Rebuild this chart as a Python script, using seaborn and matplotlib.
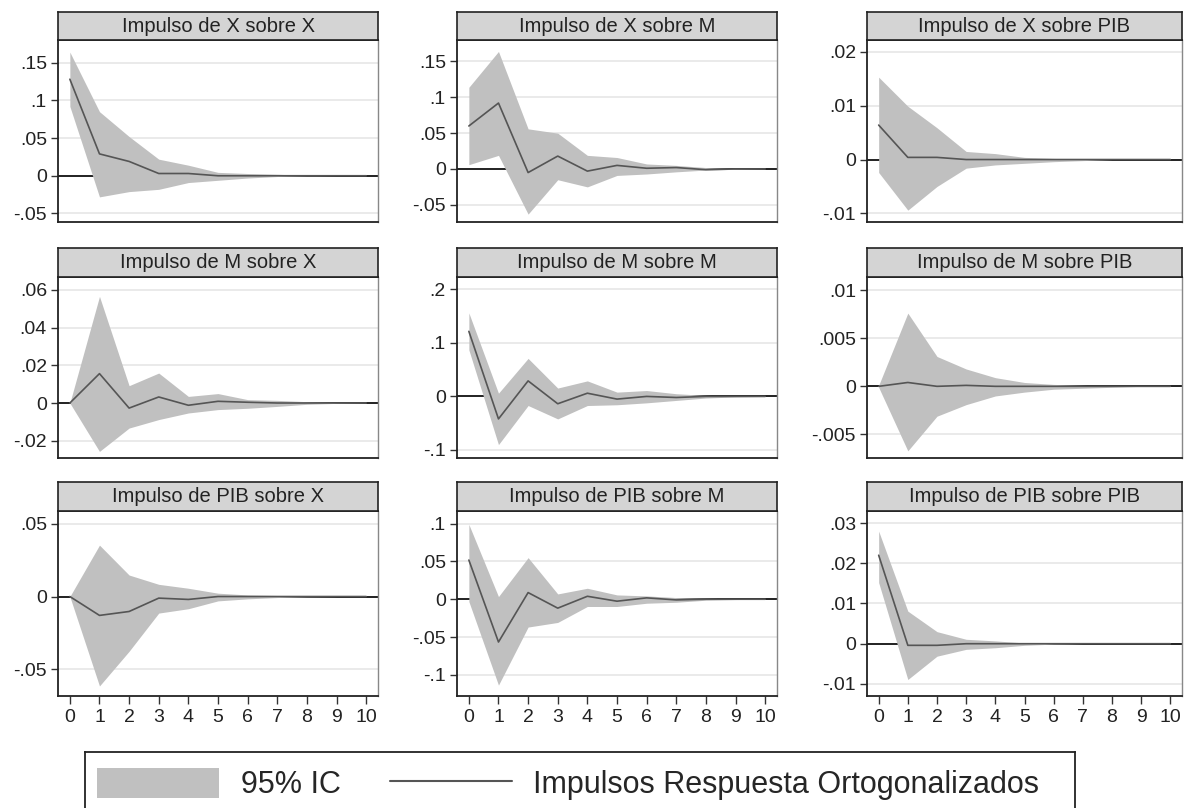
import numpy as np
import seaborn as sns
import matplotlib.pyplot as plt
from matplotlib.patches import Patch
from matplotlib.lines import Line2D

# horizonte (pasos) de las funciones impulso-respuesta
steps = list(range(11))

titles = ["Impulso de X sobre X", "Impulso de X sobre M", "Impulso de X sobre PIB",
          "Impulso de M sobre X", "Impulso de M sobre M", "Impulso de M sobre PIB",
          "Impulso de PIB sobre X", "Impulso de PIB sobre M", "Impulso de PIB sobre PIB"]

# respuestas ortogonalizadas
irf_x_x = [0.128, 0.029, 0.019, 0.003, 0.003, 0.0, 0.0, 0.0, 0.0, 0.0, 0.0]
lo_x_x = [0.092, -0.028, -0.021, -0.018, -0.009, -0.006, -0.003, -0.001, 0.0, 0.0, 0.0]
hi_x_x = [0.164, 0.085, 0.052, 0.022, 0.014, 0.0045, 0.003, 0.002, 0.0005, 0.0, 0.0]

irf_x_m = [0.060, 0.092, -0.005, 0.018, -0.003, 0.005, 0.001, 0.002, -0.001, 0.0, 0.0]
lo_x_m = [0.006, 0.019, -0.063, -0.015, -0.025, -0.009, -0.007, -0.004, -0.0015, -0.0005, 0.0]
hi_x_m = [0.114, 0.164, 0.056, 0.050, 0.019, 0.016, 0.007, 0.005, 0.002, 0.0005, 0.0]

irf_x_pib = [0.0064, 0.0004, 0.0004, 0.0, 0.0, 0.0, 0.0, 0.0, 0.0, 0.0, 0.0]
lo_x_pib = [-0.0024, -0.0094, -0.005, -0.0016, -0.001, -0.0007, -0.0004, -0.0002, 0.0, 0.0, 0.0]
hi_x_pib = [0.0153, 0.0099, 0.0059, 0.0015, 0.0011, 0.0004, 0.0002, 0.0001, 0.0, 0.0, 0.0]

irf_m_x = [0.0, 0.0156, -0.0027, 0.0032, -0.0012, 0.0009, 0.0004, 0.0, 0.0, 0.0, 0.0]
lo_m_x = [0.0, -0.0257, -0.0133, -0.0088, -0.0053, -0.0035, -0.0028, -0.0018, -0.0007, -0.0002, 0.0]
hi_m_x = [0.0, 0.0566, 0.0092, 0.0159, 0.0035, 0.005, 0.0018, 0.0014, 0.0007, 0.0002, 0.0]

irf_m_m = [0.1215, -0.042, 0.029, -0.0137, 0.006, -0.005, 0.0, -0.002, 0.0, 0.0, 0.0]
lo_m_m = [0.087, -0.090, -0.017, -0.042, -0.017, -0.0156, -0.012, -0.0075, -0.003, -0.001, 0.0]
hi_m_m = [0.156, 0.006, 0.071, 0.0156, 0.029, 0.008, 0.011, 0.005, 0.002, 0.0005, 0.0]

irf_m_pib = [0.0, 0.0004, 0.0, 0.0001, 0.0, 0.0, 0.0, 0.0, 0.0, 0.0, 0.0]
lo_m_pib = [-0.0001, -0.0067, -0.0031, -0.0019, -0.001, -0.0006, -0.0003, -0.0002, -0.0001, 0.0, 0.0]
hi_m_pib = [0.0001, 0.0076, 0.0031, 0.0018, 0.0009, 0.0004, 0.0002, 0.0001, 0.0, 0.0, 0.0]

irf_pib_x = [0.0, -0.013, -0.0103, -0.0011, -0.002, 0.0, 0.0, 0.0, 0.0, 0.0, 0.0]
lo_pib_x = [0.0, -0.0616, -0.0377, -0.0114, -0.0084, -0.003, -0.0016, -0.0007, -0.0002, 0.0, 0.0]
hi_pib_x = [0.0, 0.0354, 0.0148, 0.0084, 0.0057, 0.0023, 0.0011, 0.0007, 0.0002, 0.0, 0.0]

irf_pib_m = [0.0518, -0.0566, 0.0088, -0.0118, 0.0039, -0.0026, 0.0018, -0.0009, 0.0, 0.0, 0.0]
lo_pib_m = [-0.003, -0.1136, -0.0368, -0.0307, -0.0096, -0.0096, -0.0053, -0.004, -0.0013, -0.0004, 0.0]
hi_pib_m = [0.099, 0.0035, 0.055, 0.007, 0.0145, 0.0057, 0.0044, 0.0022, 0.0013, 0.0004, 0.0]

irf_pib_pib = [0.022, -0.0004, -0.0004, 0.0, 0.0, 0.0, 0.0, 0.0, 0.0, 0.0, 0.0]
lo_pib_pib = [0.0152, -0.0089, -0.0031, -0.0014, -0.001, -0.0004, -0.0001, 0.0, 0.0, 0.0, 0.0]
hi_pib_pib = [0.028, 0.0081, 0.003, 0.0011, 0.0007, 0.0002, 0.0001, 0.0, 0.0, 0.0, 0.0]

irfs = [irf_x_x, irf_x_m, irf_x_pib, irf_m_x, irf_m_m, irf_m_pib, irf_pib_x, irf_pib_m, irf_pib_pib]
lows = [lo_x_x, lo_x_m, lo_x_pib, lo_m_x, lo_m_m, lo_m_pib, lo_pib_x, lo_pib_m, lo_pib_pib]
highs = [hi_x_x, hi_x_m, hi_x_pib, hi_m_x, hi_m_m, hi_m_pib, hi_pib_x, hi_pib_m, hi_pib_pib]

yticks = [[-.05, 0, .05, .1, .15], [-.05, 0, .05, .1, .15], [-.01, 0, .01, .02],
          [-.02, 0, .02, .04, .06], [-.1, 0, .1, .2], [-.005, 0, .005, .01],
          [-.05, 0, .05], [-.1, -.05, 0, .05, .1], [-.01, 0, .01, .02, .03]]
ylims = [(-0.0613, 0.18), (-0.074, 0.18), (-0.0116, 0.0222),
         (-0.0292, 0.0669), (-0.115, 0.223), (-0.00744, 0.01135),
         (-0.0685, 0.0589), (-0.128, 0.1167), (-0.013, 0.033)]


def stata_label(v):
    s = "%g" % round(v, 6)
    if s.startswith("0."):
        s = s[1:]
    elif s.startswith("-0."):
        s = "-" + s[2:]
    return s


sns.set_style("white")
plt.rcParams["font.family"] = ["Liberation Sans", "DejaVu Sans"]

W, H = 1192, 808
fig = plt.figure(figsize=(W / 100, H / 100), dpi=100)

col_left = [58, 457, 867]
col_width = [320, 320, 315]
row_plot = [(40, 222), (277, 458), (511, 696)]
row_strip = [(12, 40), (248, 277), (482, 511)]

band_color = "#c0c0c0"
line_color = "#555555"

for i in range(9):
    r, c = divmod(i, 3)
    x0, w = col_left[c], col_width[c]
    top, bot = row_plot[r]
    ax = fig.add_axes([x0 / W, 1 - bot / H, w / W, (bot - top) / H])
    st, sb = row_strip[r]
    sax = fig.add_axes([x0 / W, 1 - sb / H, w / W, (sb - st) / H])

    for y in yticks[i]:
        ax.axhline(y, color="#e6e6e6", lw=1.2, zorder=0)
    ax.axhline(0, color="black", lw=1.2, zorder=1)
    ax.fill_between(steps, lows[i], highs[i], color=band_color, lw=0, zorder=2)
    sns.lineplot(x=steps, y=irfs[i], ax=ax, color=line_color, lw=1.2, zorder=3)

    ax.set_xlim(-0.4, 10.4)
    ax.set_ylim(*ylims[i])
    ax.set_yticks(yticks[i])
    ax.set_yticklabels([stata_label(v) for v in yticks[i]])
    ax.tick_params(axis="y", left=True, length=5, width=1, color="#333333",
                   labelsize=14, labelcolor="#222222", pad=3)
    if r == 2:
        ax.set_xticks(steps)
        ax.tick_params(axis="x", bottom=True, length=6, width=1, color="#333333",
                       labelsize=14, labelcolor="#222222", pad=3)
    else:
        ax.set_xticks([])
    for side in ["left", "bottom", "top"]:
        ax.spines[side].set_color("#222222")
        ax.spines[side].set_linewidth(1.3)
    ax.spines["right"].set_color("#888888")
    ax.spines["right"].set_linewidth(1.0)

    sax.set_facecolor("#d4d4d4")
    sax.set_xticks([])
    sax.set_yticks([])
    for sp in sax.spines.values():
        sp.set_color("#222222")
        sp.set_linewidth(1.2)
    sax.text(0.5, 0.5, titles[i], ha="center", va="center", fontsize=14.5,
             color="#222222", transform=sax.transAxes)

# leyenda inferior
lax = fig.add_axes([85 / W, -0.01, 990 / W, 64 / H])
lax.set_xticks([])
lax.set_yticks([])
for sp in lax.spines.values():
    sp.set_color("#222222")
    sp.set_linewidth(1.3)
handles = [Patch(facecolor=band_color, edgecolor="none"),
           Line2D([], [], color=line_color, lw=1.5)]
lax.legend(handles, ["95% IC", "Impulsos Respuesta Ortogonalizados"],
           loc="center left", ncol=2, frameon=False, fontsize=22,
           handlelength=4.0, handleheight=1.15, handletextpad=0.7,
           columnspacing=1.6, borderaxespad=0.2, borderpad=0.2)

fig.savefig("out.png", dpi=100)
